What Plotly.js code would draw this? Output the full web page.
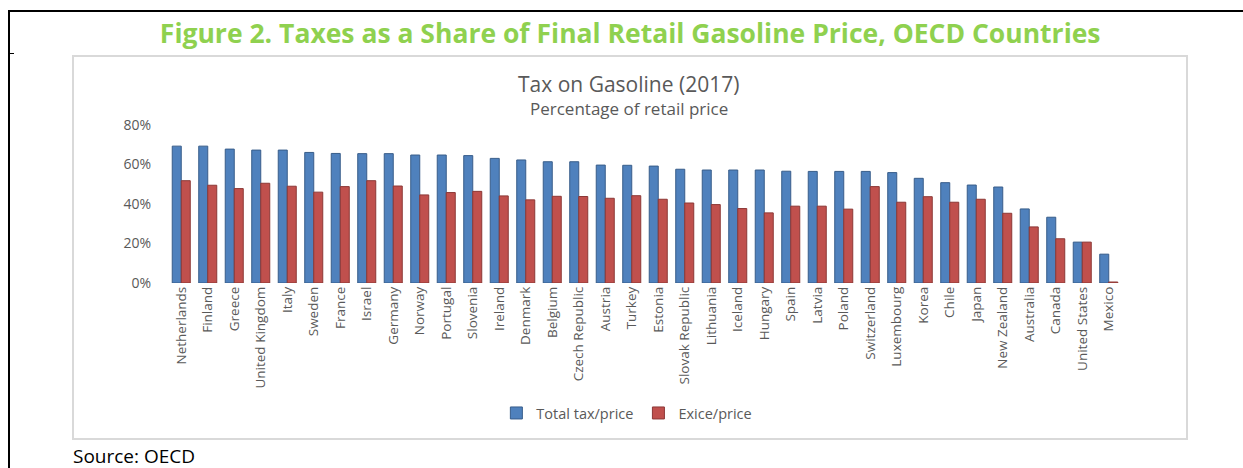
<!DOCTYPE html>
<html>
<head>
<meta charset="utf-8">
<script src="https://cdn.plot.ly/plotly-3.0.1.min.js"></script>
<style>
  html, body { margin: 0; padding: 0; background: #fff; }
  #wrap { position: relative; width: 1243px; height: 468px; overflow: hidden; }
  #chart { position: absolute; left: 0; top: 0; width: 1243px; height: 468px; }
  .line { position: absolute; background: #000; pointer-events: none; }
  .box { position: absolute; border: 2px solid #d9d9d9; pointer-events: none; }
</style>
</head>
<body>
<div id="wrap">
  <div class="box" style="left:72px; top:55px; width:1112px; height:381px;"></div>
  <div id="chart"></div>
  <div class="line" style="left:8px; top:10px; width:1235px; height:2px;"></div>
  <div class="line" style="left:8px; top:10px; width:2px; height:458px;"></div>
  <div class="line" style="left:8px; top:53px; width:6px; height:1px;"></div>
</div>
<script>
const countries = ["Netherlands","Finland","Greece","United Kingdom","Italy","Sweden","France","Israel","Germany","Norway","Portugal","Slovenia","Ireland","Denmark","Belgium","Czech Republic","Austria","Turkey","Estonia","Slovak Republic","Lithuania","Iceland","Hungary","Spain","Latvia","Poland","Switzerland","Luxembourg","Korea","Chile","Japan","New Zealand","Australia","Canada","United States","Mexico"];
const totalTax = [69.3,69.3,67.8,67.3,67.3,66.1,65.6,65.5,65.5,64.8,64.8,64.5,63.1,62.3,61.4,61.4,59.7,59.6,59.2,57.6,57.2,57.2,57.2,56.6,56.5,56.5,56.5,55.9,53.0,50.8,49.6,48.6,37.5,33.3,20.7,14.6];
const excise = [51.8,49.5,47.8,50.5,49.0,46.0,48.8,51.8,49.1,44.6,45.8,46.4,44.1,42.1,43.9,43.8,42.9,44.2,42.4,40.5,39.7,37.7,35.5,38.9,38.9,37.4,48.8,40.9,43.7,40.9,42.4,35.3,28.4,22.4,20.7,0.5];
const yTicks = [0,20,40,60,80];
const yTickText = ["0%","20%","40%","60%","80%"];

const traces = [
  {type:"bar", name:"Total tax/price", x:countries, y:totalTax,
   marker:{color:"#4f81bd", line:{color:"#385d8a", width:1}}, hoverinfo:"skip"},
  {type:"bar", name:"Exice/price", x:countries, y:excise,
   marker:{color:"#c0504d", line:{color:"#8c3836", width:1}}, hoverinfo:"skip"}
];

const layout = {
  width:1243, height:468,
  paper_bgcolor:"rgba(0,0,0,0)", plot_bgcolor:"rgba(0,0,0,0)",
  margin:{l:168, r:121, t:125, b:184.5, pad:0},
  font:{family:"Open Sans, sans-serif", color:"#595959"},
  title:{text:"<b>Figure 2. Taxes as a Share of Final Retail Gasoline Price, OECD Countries</b>",
         font:{family:"Open Sans, sans-serif", size:26.5, color:"#8fd14f"},
         x:0.507, xanchor:"center", y:0.929, yanchor:"middle", yref:"container"},
  barmode:"group", bargap:0.32, bargroupgap:0,
  showlegend:true,
  legend:{orientation:"h", x:0.481, xanchor:"center", y:-0.823, yanchor:"middle",
          font:{size:14.5, color:"#595959"}, itemwidth:30, tracegroupgap:0},
  xaxis:{type:"category", tickangle:-90, tickfont:{size:13.5, color:"#595959"},
         showgrid:false, showline:false, zeroline:false, ticks:"", ticklen:0, automargin:false},
  yaxis:{range:[0,80], tickvals:yTicks, ticktext:yTickText, tickfont:{size:14, color:"#595959"},
         showgrid:false, showline:false, zeroline:false, ticks:"", ticklabelstandoff:16, automargin:false},
  annotations:[
    {text:"Tax on Gasoline (2017)", xref:"paper", yref:"paper", x:0.483, y:1.26, xanchor:"center", yanchor:"middle",
     showarrow:false, font:{size:21, color:"#595959"}},
    {text:"Percentage of retail price", xref:"paper", yref:"paper", x:0.483, y:1.104, xanchor:"center", yanchor:"middle",
     showarrow:false, font:{size:17, color:"#595959"}},
    {text:"Source: OECD", xref:"paper", yref:"paper", x:-0.1017, y:-1.094, xanchor:"left", yanchor:"middle",
     showarrow:false, font:{size:19, color:"#000000"}}
  ]
};

Plotly.newPlot("chart", traces, layout, {displayModeBar:false, staticPlot:true});
</script>
</body>
</html>
